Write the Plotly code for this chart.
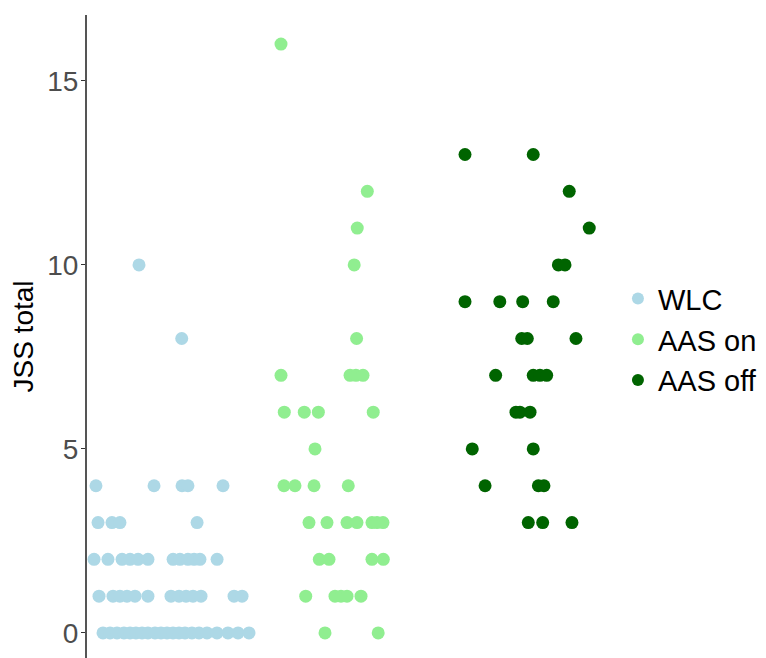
import plotly.graph_objects as go

# Group labels and colours
groups = ["WLC", "AAS on", "AAS off"]
colors = ["#ADD8E6", "#90EE90", "#006400"]

# JSS total values per group with jittered x positions (category units; WLC=1, AAS on=2, AAS off=3)
wlc_y = [10, 8,
         4, 4, 4, 4, 4,
         3, 3, 3, 3,
         2, 2, 2, 2, 2, 2, 2, 2, 2, 2, 2, 2,
         1, 1, 1, 1, 1, 1, 1, 1, 1, 1, 1, 1, 1,
         0, 0, 0, 0, 0, 0, 0, 0, 0, 0, 0, 0, 0, 0, 0, 0, 0, 0, 0, 0, 0]
wlc_x = [0.725, 0.992,
         0.456, 0.819, 0.994, 1.031, 1.25,
         0.469, 0.556, 0.606, 1.088,
         0.444, 0.531, 0.619, 0.669, 0.719, 0.781, 0.938, 0.981, 1.031, 1.069, 1.106, 1.213,
         0.475, 0.5625, 0.606, 0.65, 0.7, 0.781, 0.925, 0.975, 1.019, 1.0625, 1.1125, 1.319, 1.369,
         0.5, 0.544, 0.5875, 0.631, 0.669, 0.706, 0.744, 0.781, 0.825, 0.8625, 0.9, 0.9375,
         0.975, 1.0125, 1.056, 1.1, 1.15, 1.2125, 1.281, 1.344, 1.4125]

aas_on_y = [16, 12, 11, 10, 8,
            7, 7, 7, 7,
            6, 6, 6, 6,
            5,
            4, 4, 4, 4,
            3, 3, 3, 3, 3, 3, 3,
            2, 2, 2, 2,
            1, 1, 1, 1, 1,
            0, 0]
aas_on_x = [1.6125, 2.152, 2.089, 2.07, 2.085,
            1.6125, 2.044, 2.081, 2.125,
            1.633, 1.758, 1.846, 2.189,
            1.825,
            1.631, 1.7, 1.819, 2.033,
            1.7875, 1.9, 2.025, 2.0875, 2.181, 2.2125, 2.25,
            1.852, 1.9125, 2.181, 2.252,
            1.767, 1.95, 1.9875, 2.025, 2.1125,
            1.8875, 2.22]

aas_off_y = [13, 13, 12, 11, 10, 10,
             9, 9, 9, 9,
             8, 8, 8,
             7, 7, 7, 7,
             6, 6, 6,
             5, 5,
             4, 4, 4,
             3, 3, 3]
aas_off_x = [2.7625, 3.189, 3.414, 3.539, 3.346, 3.3875,
             2.7625, 2.98, 3.123, 3.314,
             3.117, 3.152, 3.456,
             2.954, 3.189, 3.231, 3.273,
             3.081, 3.106, 3.169,
             2.808, 3.189,
             2.888, 3.221, 3.256,
             3.158, 3.248, 3.431]

y_ticks = [0, 5, 10, 15]

series = [(wlc_x, wlc_y), (aas_on_x, aas_on_y), (aas_off_x, aas_off_y)]

fig = go.Figure()
for name, col, (xs, ys) in zip(groups, colors, series):
    fig.add_trace(go.Scatter(
        x=xs, y=ys, mode="markers", name=name,
        marker=dict(color=col, size=13, line=dict(width=0)),
    ))

font_family = "Liberation Sans, Arial, sans-serif"

fig.update_layout(
    width=766, height=658,
    margin=dict(l=79, r=175, t=7, b=8, autoexpand=False),
    plot_bgcolor="white", paper_bgcolor="white",
    font=dict(family=font_family, color="black"),
    showlegend=True,
    legend=dict(x=1.037, y=0.495, xanchor="left", yanchor="middle",
                font=dict(size=29, color="black", family=font_family),
                itemsizing="constant", tracegroupgap=0,
                bgcolor="rgba(0,0,0,0)"),
)
fig.update_xaxes(range=[0.4, 3.6], visible=False, showgrid=False, zeroline=False,
                 automargin=False)
fig.update_yaxes(
    range=[-0.68, 16.79], automargin=False,
    tickvals=y_ticks, ticktext=[str(v) for v in y_ticks],
    tickfont=dict(size=28, color="#4D4D4D", family=font_family),
    ticks="outside", ticklen=4, tickcolor="#333333", tickwidth=1,
    ticklabelstandoff=-3,
    showline=True, linecolor="#555555", linewidth=2,
    showgrid=False, zeroline=False,
    title=dict(text="JSS total", font=dict(size=28, color="black", family=font_family), standoff=10),
)

fig.write_html("out.html")
